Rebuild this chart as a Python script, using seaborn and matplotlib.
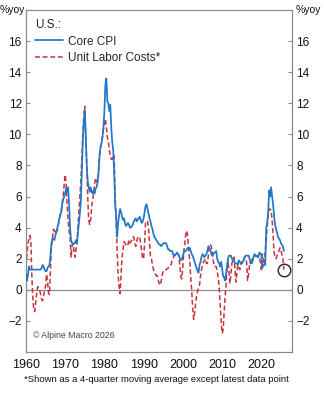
import numpy as np
import pandas as pd
import matplotlib
matplotlib.use("Agg")
import matplotlib.pyplot as plt
import seaborn as sns

# Quarterly readings, %yoy, 1960Q1 .. 2025Q4 (four values per year)
years = list(range(1960, 2026))

core_cpi = [
    1.0, 0.6, 0.9, 1.5,   1.3, 1.3, 1.3, 1.3,   1.3, 1.3, 1.3, 1.3,   1.3, 1.3, 1.3, 1.3,
    1.4, 1.6, 1.5, 1.3,   1.2, 1.2, 1.4, 1.5,   1.6, 2.2, 3.0, 3.3,   3.3, 3.2, 3.5, 3.7,
    4.0, 4.2, 4.6, 4.8,   5.0, 5.5, 5.8, 6.0,   6.2, 6.5, 6.3, 6.6,   5.5, 4.0, 3.2, 3.0,
    2.9, 3.0, 3.0, 3.2,   3.0, 3.6, 4.3, 4.9,   5.7, 7.5, 9.5, 10.8,  11.5, 10.0, 8.0, 7.0,
    6.6, 6.3, 6.6, 6.3,   6.2, 6.4, 6.2, 6.5,   6.6, 6.9, 7.5, 8.5,   9.2, 9.4, 9.8, 10.4,
    11.5, 13.2, 13.6, 12.1,  12.0, 11.5, 11.9, 10.5,  9.5, 9.0, 7.5, 5.5,  4.7, 3.4, 4.3, 4.8,
    5.2, 5.0, 4.7, 4.5,   4.6, 4.3, 4.1, 4.2,   4.3, 4.2, 4.0, 4.0,   4.1, 4.2, 4.4, 4.5,
    4.6, 4.4, 4.5, 4.6,   4.7, 4.5, 4.3, 4.4,   4.6, 5.0, 5.4, 5.5,   5.2, 4.9, 4.6, 4.4,
    4.1, 3.9, 3.6, 3.4,   3.3, 3.2, 3.1, 3.0,   2.9, 2.9, 2.8, 2.9,   3.0, 3.0, 3.0, 3.0,
    2.8, 2.6, 2.6, 2.5,   2.5, 2.5, 2.3, 2.2,   2.2, 2.3, 2.4, 2.3,   2.2, 2.0, 1.9, 2.0,
    2.2, 2.4, 2.5, 2.5,   2.6, 2.7, 2.6, 2.7,   2.5, 2.3, 2.2, 2.0,   1.8, 1.6, 1.4, 1.2,
    1.1, 1.6, 1.8, 2.1,   2.3, 2.2, 2.1, 2.2,   2.3, 2.5, 2.8, 2.7,   2.6, 2.3, 2.2, 2.3,
    2.4, 2.4, 2.5, 2.0,   1.8, 1.7, 1.5, 1.8,   1.4, 0.9, 0.8, 0.6,   1.0, 1.5, 2.0, 2.2,
    2.2, 2.2, 2.0, 1.9,   1.9, 1.7, 1.7, 1.7,   1.6, 1.9, 1.8, 1.7,   1.7, 1.8, 1.9, 2.1,
    2.2, 2.2, 2.2, 2.2,   2.0, 1.7, 1.7, 1.8,   2.1, 2.3, 2.2, 2.2,   2.1, 2.1, 2.4, 2.3,
    2.3, 1.4, 1.6, 1.6,   1.6, 4.0, 4.3, 5.0,   6.4, 6.0, 6.6, 6.0,   5.5, 4.8, 4.2, 3.9,
    3.7, 3.4, 3.3, 3.2,   3.0, 2.9, 2.8, 2.5,
]

unit_labor_costs = [
    1.5, 2.2, 3.0, 3.2,   3.5, 3.2, 1.0, -0.5,  -1.3, -1.4, -0.8, -0.2,  0.2, 0.1, 0.0, -0.3,
    -0.6, -0.7, -0.4, 0.0,  0.2, 1.0, 0.6, -0.2,  -0.3, 1.2, 2.8, 3.3,  3.9, 3.8, 3.6, 3.8,
    3.8, 4.2, 4.5, 4.9,   5.0, 5.6, 6.0, 6.8,   7.4, 6.8, 5.5, 4.5,   3.8, 3.4, 2.1, 2.8,
    3.0, 2.5, 2.1, 2.6,   3.0, 4.0, 5.0, 6.0,   7.0, 8.5, 10.0, 11.2,  11.8, 10.0, 8.0, 6.0,
    4.5, 4.2, 4.5, 5.3,   5.8, 6.2, 6.8, 7.2,   7.0, 6.9, 7.5, 8.8,   9.0, 9.5, 9.8, 10.3,
    10.7, 11.0, 10.5, 9.8,  9.6, 9.0, 8.6, 8.4,  8.4, 8.7, 8.6, 6.0,  4.5, 2.5, 1.0, 0.2,
    -0.25, 1.0, 2.1, 2.6,  3.1, 3.0, 2.9, 2.8,  2.9, 3.2, 3.0, 3.1,  3.2, 3.4, 3.4, 3.0,
    2.8, 3.1, 3.4, 3.4,   3.4, 3.0, 2.5, 2.0,   2.0, 3.0, 4.4, 4.4,   4.4, 4.0, 3.0, 2.1,
    2.0, 1.6, 1.3, 1.2,   1.0, 0.9, 0.9, 0.6,   0.4, 0.3, 0.6, 1.0,   1.2, 1.3, 1.3, 1.3,
    1.35, 1.4, 1.5, 1.6,  1.6, 1.9, 2.0, 2.2,   2.3, 2.4, 2.4, 2.3,   2.2, 1.5, 0.8, 0.7,
    1.5, 2.5, 3.0, 3.6,   3.8, 3.4, 2.5, 1.9,   0.8, 0.0, -1.2, -1.9,  -1.5, -0.9, -0.4, -0.1,
    0.1, 0.3, 0.9, 1.3,   1.6, 1.8, 1.9, 2.0,   1.7, 1.7, 2.2, 2.9,   2.9, 2.8, 2.4, 1.9,
    1.5, 1.5, 1.5, 1.2,   0.8, 0.2, -0.9, -2.0,  -2.8, -2.6, -1.5, -0.5,  0.3, 1.3, 1.9, 1.2,
    0.4, 1.0, 1.7, 1.9,   2.1, 1.5, 0.5, 1.0,   1.6, 1.5, 1.3, 1.5,   1.8, 1.7, 1.9, 2.1,
    2.0, 1.8, 0.6, 1.0,   1.6, 1.8, 1.9, 2.0,   2.0, 2.1, 2.2, 2.2,   2.2, 2.1, 2.1, 1.8,
    1.3, 2.3, 2.1, 1.6,   2.5, 3.2, 4.1, 4.8,   5.2, 5.2, 5.1, 4.5,   3.6, 2.4, 2.1, 2.0,
    2.2, 2.3, 2.5, 2.7,   2.5, 2.3, 2.0, 1.3,
]

y_ticks = [-2, 0, 2, 4, 6, 8, 10, 12, 14, 16]
x_ticks = [1960, 1970, 1980, 1990, 2000, 2010, 2020]

blue = "#1f78c8"
red = "#c8323c"
grey = "#8a8a8a"

quarters = [y + q / 4 for y in years for q in range(4)]
df = pd.DataFrame({"date": quarters, "Core CPI": core_cpi,
                   "Unit Labor Costs*": unit_labor_costs})

sns.set_style("white")
plt.rcParams["font.family"] = ["Liberation Sans", "DejaVu Sans"]

fig, ax = plt.subplots(figsize=(3.24, 4.0), dpi=100)
fig.subplots_adjust(left=0.080, right=0.901, top=0.975, bottom=0.12)

ax.axhline(0, color=grey, lw=0.9, zorder=1)
sns.lineplot(data=df, x="date", y="Core CPI", ax=ax, color=blue, lw=1.25,
             label="Core CPI", zorder=3)
sns.lineplot(data=df, x="date", y="Unit Labor Costs*", ax=ax, color=red, lw=1.1,
             label="Unit Labor Costs*", zorder=2)
ax.lines[-1].set_dashes([3.2, 1.8])

# latest unit-labor-cost reading, circled
ax.plot(df["date"].iloc[-1], df["Unit Labor Costs*"].iloc[-1], "o", ms=9,
        mfc="none", mec="#222222", mew=1.0, zorder=4)

ax.set_xlim(1960, 2027.8)
ax.set_ylim(-4, 18)
ax.set_xticks(x_ticks)
ax.set_yticks(y_ticks)
ax.set_xlabel("")
ax.set_ylabel("")
ax.tick_params(axis="both", direction="in", length=3, width=0.8, color=grey,
               labelcolor="#111111", pad=3)
ax.tick_params(axis="y", right=True, labelright=True, left=True, labelsize=8.5)
ax.tick_params(axis="x", pad=5, labelsize=9)
for s in ax.spines.values():
    s.set_color(grey)
    s.set_linewidth(0.9)

leg = ax.legend(title="U.S.:", loc="upper left", frameon=False, fontsize=8.5,
                title_fontsize=8.5, handlelength=2.3, handletextpad=0.5,
                labelspacing=0.35, borderaxespad=0.4, bbox_to_anchor=(0.0, 1.0))
leg._legend_box.align = "left"

fig.text(0.0, 0.975, "%yoy", fontsize=7.5, ha="left", va="center", color="#111111")
fig.text(0.913, 0.975, "%yoy", fontsize=7.5, ha="left", va="center", color="#111111")
ax.text(0.025, 0.035, "\u00a9 Alpine Macro 2026", transform=ax.transAxes,
        fontsize=6.3, color="#444444", ha="left", va="bottom")
fig.text(0.075, 0.052, "*Shown as a 4-quarter moving average except latest data point",
         fontsize=6.8, ha="left", va="center", color="#111111")

fig.savefig("out.png", dpi=100)
